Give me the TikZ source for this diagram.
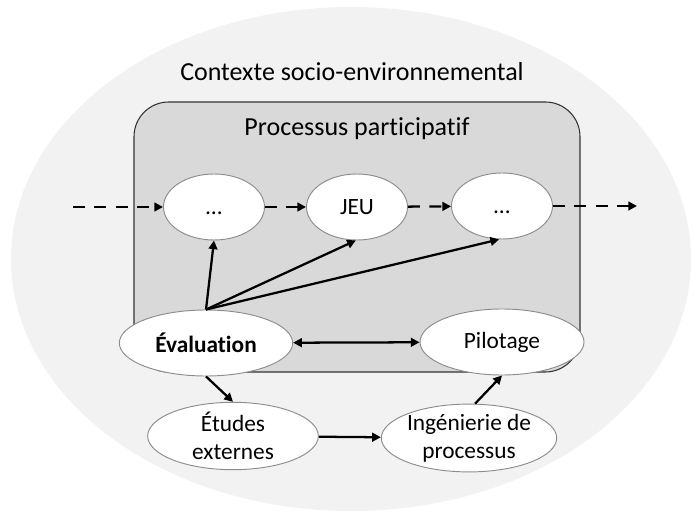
\documentclass[tikz,border=0pt]{standalone}
\usepackage{fontspec}
\setmainfont{Carlito}[Ligatures=NoCommon]
\usetikzlibrary{shapes.geometric,arrows.meta}
\definecolor{ctxfill}{HTML}{F2F2F2}
\definecolor{procfill}{HTML}{D9D9D9}
\definecolor{nodeline}{HTML}{8C8C8C}
\begin{document}
\begin{tikzpicture}[x=0.75pt,y=-0.75pt,
  title/.style={font=\fontsize{19.5}{22}\selectfont},
  bubble/.style={ellipse,draw=nodeline,line width=0.7pt,fill=white,inner sep=0pt,align=center,
    font=\fontsize{17.5}{21}\selectfont},
  small/.style={bubble,minimum width=75.75pt,minimum height=49.5pt},
  wide/.style={bubble,minimum width=127.5pt,minimum height=49.5pt},
  tall/.style={bubble,minimum width=128pt,minimum height=50.5pt},
  link/.style={line width=1.7pt,-{Triangle[length=6.5pt,width=6.5pt]}},
  flow/.style={link,dash pattern=on 9pt off 7pt}]
\useasboundingbox (0,0) rectangle (696,520);
% surrounding context
\fill[ctxfill] (351,259) ellipse [x radius=340, y radius=252];
\node[title] (ctx) at (352,72) {Contexte socio-environnemental};
% participatory process box
\draw[fill=procfill,draw=black!80,line width=0.8pt,rounded corners=26pt] (134,102) rectangle (580,372);
\node[title] (proc) at (357,129) {Processus participatif};
% upper chain
\node[small] (d1) at (214,207) {\vphantom{JEU}\ldots};
\node[small] (jeu) at (357,207) {JEU};
\node[small] (d2) at (502,206) {\vphantom{JEU}\ldots};
\coordinate (in) at (73,207);
\coordinate (out) at (637,206);
% lower nodes
\node[wide,minimum width=130pt] (eval) at (206,343) {\textbf{Évaluation}};
\node[wide,minimum width=123pt] (pil) at (502,342) {Pilotage};
\node[tall] (etu) at (233,436) {Études\\externes};
\node[tall] (ing) at (469,438) {Ingénierie de\\processus};
% connectors
\draw[flow] (in) -- (d1);
\draw[flow] (d1) -- (jeu);
\draw[flow] (jeu) -- (d2);
\draw[flow] (d2) -- (out);
\draw[link] (eval.north) -- (d1.south);
\draw[link] (eval.north) -- (jeu.268);
\draw[link] (eval.north) -- (d2.265);
\draw[link,{Triangle[length=6.5pt,width=6.5pt]}-{Triangle[length=6.5pt,width=6.5pt]}] (eval) -- (pil);
\draw[link] (eval.south) -- (etu.north);
\draw[link] (etu) -- (ing);
\draw[link] (ing.80) -- (pil.south);
\end{tikzpicture}
\end{document}
